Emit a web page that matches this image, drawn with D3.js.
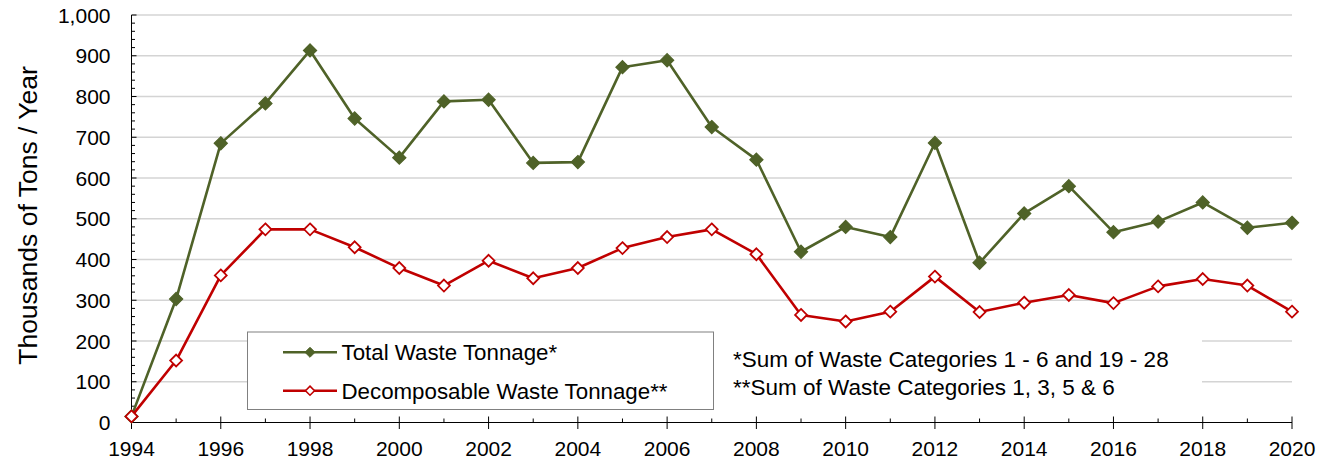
<!DOCTYPE html>
<html><head><meta charset="utf-8">
<script src="https://cdn.jsdelivr.net/npm/d3@7"></script>
<style>body{margin:0;background:#fff}svg{display:block}text{font-family:"Liberation Sans",Arial,sans-serif;fill:#000}</style>
</head><body>
<script>
const years = [1994,1995,1996,1997,1998,1999,2000,2001,2002,2003,2004,2005,2006,2007,2008,2009,2010,2011,2012,2013,2014,2015,2016,2017,2018,2019,2020];
const totalWaste = [15,303,685,783,913,746,650,788,792,637,639,872,889,725,645,419,480,455,686,392,513,580,467,493,540,478,490];
const decomposableWaste = [15,152,361,474,474,430,379,336,397,354,379,428,455,474,413,264,248,272,358,271,294,313,293,334,352,336,272];
const yTicks = [0,100,200,300,400,500,600,700,800,900,1000];
const xTickLabels = [1994,1996,1998,2000,2002,2004,2006,2008,2010,2012,2014,2016,2018,2020];
const seriesNames = ["Total Waste Tonnage*","Decomposable Waste Tonnage**"];
const notes = ["*Sum of Waste Categories 1 - 6 and 19 - 28","**Sum of Waste Categories 1, 3, 5 & 6"];
const yTitle = "Thousands of Tons / Year";

const W=1322,H=463;
const svg=d3.select("body").append("svg").attr("width",W).attr("height",H);
const x=d3.scaleLinear().domain([1994,2020]).range([131.5,1292]);
const y=d3.scaleLinear().domain([0,1000]).range([422.5,15]);
const green="#4f6228", red="#c00000";

// gridlines
const grid=svg.append("g");
grid.selectAll("line").data(yTicks.filter(d=>d>0)).join("line")
 .attr("x1",x(1994)).attr("x2",x(2020)).attr("y1",d=>y(d)).attr("y2",d=>y(d))
 .attr("stroke","#d4d4d4").attr("stroke-width",1.3);

// annotation white box (covers gridlines)
svg.append("rect").attr("x",713).attr("y",322).attr("width",489).attr("height",82).attr("fill","#fff");

// y axis
const yAxisG=svg.append("g").attr("transform",`translate(${x(1994)},0)`);
yAxisG.append("line").attr("y1",y(0)).attr("y2",y(1000)).attr("stroke","#000");
const minorY=d3.range(0,1001,20);
yAxisG.selectAll(".mn").data(minorY).join("line")
 .attr("x1",0).attr("x2",d=>d%100===0?5:3.5).attr("y1",d=>y(d)).attr("y2",d=>y(d)).attr("stroke","#000");
yAxisG.selectAll("text").data(yTicks).join("text")
 .attr("x",-21).attr("y",d=>y(d)).attr("dy","0.36em").attr("text-anchor","end")
 .style("font-size","21px").text(d=>d3.format(",")(d));

// x axis
const xAxisG=svg.append("g").attr("transform",`translate(0,${y(0)})`);
xAxisG.append("line").attr("x1",x(1994)).attr("x2",x(2020)).attr("stroke","#000");
xAxisG.selectAll(".tk").data(years).join("line")
 .attr("x1",d=>x(d)).attr("x2",d=>x(d))
 .attr("y1",d=>xTickLabels.includes(d)?-6:-4).attr("y2",d=>xTickLabels.includes(d)?6.5:0)
 .attr("stroke","#000");
xAxisG.selectAll("text").data(xTickLabels).join("text")
 .attr("x",d=>x(d)).attr("y",33.5).attr("text-anchor","middle")
 .style("font-size","21px").text(d=>d);

// y title
svg.append("text").attr("transform","translate(36.5,215.5) rotate(-90)").attr("text-anchor","middle")
 .style("font-size","26.5px").text(yTitle);

// series
function drawSeries(vals,color,filled){
  const line=d3.line().x((d,i)=>x(years[i])).y(d=>y(d));
  svg.append("path").datum(vals).attr("d",line).attr("fill","none").attr("stroke",color).attr("stroke-width",2.6).attr("stroke-linejoin","round");
  const sym=d3.symbol().type(d3.symbolDiamond2).size(filled?110:90);
  svg.append("g").selectAll("path").data(vals).join("path")
   .attr("transform",(d,i)=>`translate(${x(years[i])},${y(d)})`)
   .attr("d",sym).attr("fill",filled?color:"#fff").attr("stroke",color).attr("stroke-width",filled?1.2:1.8);
}
drawSeries(totalWaste,green,true);
drawSeries(decomposableWaste,red,false);

// legend
const lg=svg.append("g");
lg.append("rect").attr("x",247.5).attr("y",332).attr("width",466).attr("height",77.5).attr("fill","#fff").attr("stroke","#808080").attr("stroke-width",1);
[[green,true,352.3],[red,false,390.7]].forEach(([c,f,yy],i)=>{
  lg.append("line").attr("x1",283).attr("x2",337).attr("y1",yy).attr("y2",yy).attr("stroke",c).attr("stroke-width",2.6);
  lg.append("path").attr("transform",`translate(310,${yy})`).attr("d",d3.symbol().type(d3.symbolDiamond2).size(f?64:52))
   .attr("fill",f?c:"#fff").attr("stroke",c).attr("stroke-width",f?1:1.6);
  lg.append("text").attr("x",341.5).attr("y",yy).attr("dy","0.36em").style("font-size","22.3px").text(seriesNames[i]);
});

// notes
svg.selectAll(".note").data(notes).join("text").attr("class","note")
 .attr("x",733).attr("y",(d,i)=>359+i*27.7).attr("dy","0.36em").style("font-size","22.5px").text(d=>d);
</script>
</body></html>
